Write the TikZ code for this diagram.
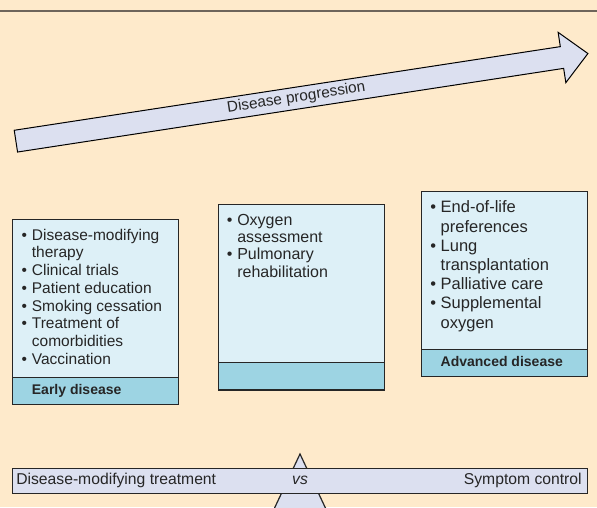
\documentclass[tikz,border=0pt]{standalone}
\usepackage{fontspec}
\setmainfont{Liberation Sans}
\usetikzlibrary{shapes.arrows,positioning}
\definecolor{cream}{HTML}{FEEACB}
\definecolor{rulegray}{HTML}{6E655B}
\definecolor{lavender}{HTML}{DCE0F0}
\definecolor{paleblue}{HTML}{DDF0F7}
\definecolor{bandblue}{HTML}{9DD4E3}
\definecolor{ink}{HTML}{262626}
\tikzstyle{bodybox} = [rectangle, minimum width=166pt, minimum height=158pt, inner sep=0pt, outer sep=0pt, draw=ink, line width=1.2pt, fill=paleblue]
\tikzstyle{bandbox} = [rectangle, minimum width=166pt, minimum height=27.5pt, inner sep=0pt, outer sep=0pt, draw=ink, line width=1.2pt, fill=bandblue]
\tikzstyle{items} = [anchor=north west, align=left, inner xsep=8.6pt, inner ysep=9.5pt, text=ink]
\tikzstyle{bandlabel} = [anchor=west, inner xsep=19pt, text height=10pt, text depth=3pt, text=ink, font=\fontsize{14}{16}\selectfont\bfseries]
\tikzstyle{bartext} = [inner xsep=4pt, text height=11pt, text depth=3.5pt, text=ink, font=\fontsize{15.7}{18}\selectfont]
\tikzset{
  progress/.style={
    single arrow,
    single arrow head extend=14.45pt, % barbs stick out past the shaft
    single arrow tip angle=88.3,
    minimum height=578.7pt,
    text height=11pt, text depth=3.5pt, inner ysep=3.25pt,
    draw=black, line width=1pt, fill=lavender, text=ink,
    font=\fontsize{15.3}{18}\selectfont
  }
}
\newcommand{\itembul}{\makebox[10.4pt][l]{\textbullet}}
\newcommand{\itemcont}{\hspace*{10.4pt}}

\begin{document}
\begin{tikzpicture}[x=1pt,y=1pt]
      \useasboundingbox (0,0) rectangle (597,507);
      \fill[cream] (0,0) rectangle (597,507);
      \draw[rulegray, line width=2pt] (0,496) -- (597,496);
      % progression arrow
      \node (progression)[progress, rotate=8.71] at (296.3,408.8) {Disease progression};
      % stage boxes
      \node (early)[bodybox] at (95.7,208.7) {};
      \node (earlyband)[bandbox, below=0pt of early] {};
      \node (mid)[bodybox, right=39.4pt of early, yshift=14.8pt] {};
      \node (midband)[bandbox, below=0pt of mid] {};
      \node (advanced)[bodybox, right=37.4pt of mid, yshift=13.2pt] {};
      \node (advancedband)[bandbox, below=0pt of advanced] {};
      \node (earlyitems)[items, font=\fontsize{15.5}{17.7}\selectfont] at (early.north west)
        {\itembul Disease-modifying\\\itemcont therapy\\\itembul Clinical trials\\\itembul Patient education\\
         \itembul Smoking cessation\\\itembul Treatment of\\\itemcont comorbidities\\\itembul Vaccination};
      \node (miditems)[items, font=\fontsize{16}{17.3}\selectfont] at (mid.north west)
        {\itembul Oxygen\\\itemcont assessment\\\itembul Pulmonary\\\itemcont rehabilitation};
      \node (advanceditems)[items, font=\fontsize{16.5}{19.2}\selectfont] at (advanced.north west)
        {\itembul End-of-life\\\itemcont preferences\\\itembul Lung\\\itemcont transplantation\\
         \itembul Palliative care\\\itembul Supplemental\\\itemcont oxygen};
      \node (earlylabel)[bandlabel] at (earlyband.west) {Early disease};
      \node (advancedlabel)[bandlabel] at (advancedband.west) {Advanced disease};
      % balance
      \begin{scope}
        \clip (0,0) rectangle (597,507);
        \coordinate (pivot) at (300,53);
        \filldraw[fill=lavender, draw=ink, line width=1.2pt] (270.3,-10) -- (pivot) -- (329.7,-10) -- cycle;
      \end{scope}
      \node (balance)[rectangle, minimum width=574.6pt, minimum height=24.6pt, fill=lavender, draw=ink, line width=1.2pt, bartext] at (300,26) {\textit{vs}};
      \node (modifying)[bartext, anchor=west] at (balance.west) {Disease-modifying treatment};
      \node (symptom)[bartext, anchor=east, inner xsep=6pt] at (balance.east) {Symptom control};
\end{tikzpicture}
\end{document}
